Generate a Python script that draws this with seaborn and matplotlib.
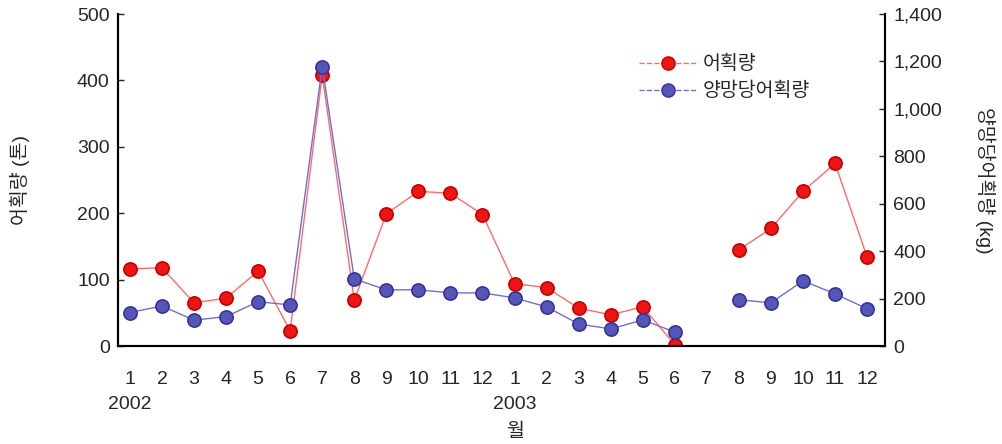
"""
어획량 / 양망당어획량 월별 추이 (2002-2003)
"""

import numpy as np
import pandas as pd
import matplotlib
matplotlib.use("Agg")
import matplotlib.pyplot as plt
from matplotlib.lines import Line2D
import seaborn as sns

sns.set_style("white")
plt.rcParams["font.family"] = ["Liberation Sans", "Noto Sans CJK KR", "DejaVu Sans"]

# 데이터 (2002.1 ~ 2003.12, 2003.7 결측)
months = [1, 2, 3, 4, 5, 6, 7, 8, 9, 10, 11, 12,
          1, 2, 3, 4, 5, 6, 7, 8, 9, 10, 11, 12]
catch_ton = [116, 118, 65, 72, 113, 23, 408, 69, 199, 233, 230, 198,
             94, 88, 57, 47, 59, 2, np.nan, 145, 177, 233, 275, 134]
cpue_kg = [141, 169, 109, 124, 187, 173, 1178, 283, 237, 237, 224, 224,
           203, 165, 93, 72, 110, 59, np.nan, 195, 182, 275, 220, 157]
segment = [0] * 18 + [1] * 6

RED_LINE, RED_FACE, RED_EDGE = "#ff6b6b", "#ee1515", "#c40000"
BLUE_LINE, BLUE_FACE, BLUE_EDGE = "#6f6fd0", "#5656b8", "#34349a"
FS = 14


def main():
    df = pd.DataFrame({"pos": np.arange(len(months)), "catch": catch_ton,
                       "cpue": cpue_kg, "seg": segment})

    fig = plt.figure(figsize=(10.02, 4.44), dpi=100)
    ax = fig.add_axes([0.1178, 0.2207, 0.7655, 0.7477])
    ax2 = ax.twinx()

    sns.lineplot(data=df, x="pos", y="catch", units="seg", estimator=None, ax=ax,
                 color=RED_LINE, lw=1.0, marker="o", markersize=9.5,
                 markerfacecolor=RED_FACE, markeredgecolor=RED_EDGE,
                 markeredgewidth=1.2, legend=False)
    sns.lineplot(data=df, x="pos", y="cpue", units="seg", estimator=None, ax=ax2,
                 color=BLUE_LINE, lw=1.0, marker="o", markersize=9.5,
                 markerfacecolor=BLUE_FACE, markeredgecolor=BLUE_EDGE,
                 markeredgewidth=1.2, legend=False)

    ax.set_xlim(-0.37, 23.56)
    ax.set_ylim(0, 500)
    ax2.set_ylim(0, 1400)

    ax.set_yticks(range(0, 501, 100))
    ax2.set_yticks(range(0, 1401, 200))
    ax2.set_yticklabels([f"{v:,}" for v in range(0, 1401, 200)])

    ax.set_xticks(range(len(months)))
    ax.set_xticklabels([str(m) for m in months])
    ax.set_xticks([i + 0.56 for i in range(23)], minor=True)
    ax.tick_params(axis="x", which="major", length=0, pad=18, labelsize=FS)
    ax.tick_params(axis="x", which="minor", direction="in", length=4, width=1)
    ax.tick_params(axis="y", direction="in", length=4, width=1, labelsize=FS, pad=6)
    ax2.tick_params(axis="y", direction="in", length=4, width=1, labelsize=FS, pad=6)

    for a in (ax, ax2):
        a.spines["top"].set_visible(False)
        for s in ("left", "right", "bottom"):
            a.spines[s].set_linewidth(1.5)
            a.spines[s].set_color("black")

    ax.set_xlabel("")
    ax.set_ylabel("어획량 (톤)", fontsize=FS, va="center")
    ax.yaxis.set_label_coords(-0.128, 0.5)
    ax2.set_ylabel("양망당어획량 (kg)", fontsize=FS, rotation=270, va="center")
    ax2.yaxis.set_label_coords(1.13, 0.5)

    # 연도 / 월 라벨
    trans = ax.get_xaxis_transform()
    ax.text(0, -0.175, "2002", transform=trans, ha="center", va="center", fontsize=FS)
    ax.text(12, -0.175, "2003", transform=trans, ha="center", va="center", fontsize=FS)
    ax.text(12, -0.26, "월", transform=trans, ha="center", va="center", fontsize=FS)

    handles = [
        Line2D([], [], color=RED_LINE, lw=1.0, ls="--", marker="o", markersize=9.5,
               markerfacecolor=RED_FACE, markeredgecolor=RED_EDGE),
        Line2D([], [], color=BLUE_LINE, lw=1.0, ls="--", marker="o", markersize=9.5,
               markerfacecolor=BLUE_FACE, markeredgecolor=BLUE_EDGE),
    ]
    ax2.legend(handles, ["어획량", "양망당어획량"], loc="upper left",
               bbox_to_anchor=(0.62, 0.915), bbox_transform=fig.transFigure,
               frameon=False, fontsize=FS, handlelength=3.0, labelspacing=0.45,
               handletextpad=0.3)

    fig.savefig("out.png", dpi=100)
    plt.close(fig)


if __name__ == "__main__":
    main()
